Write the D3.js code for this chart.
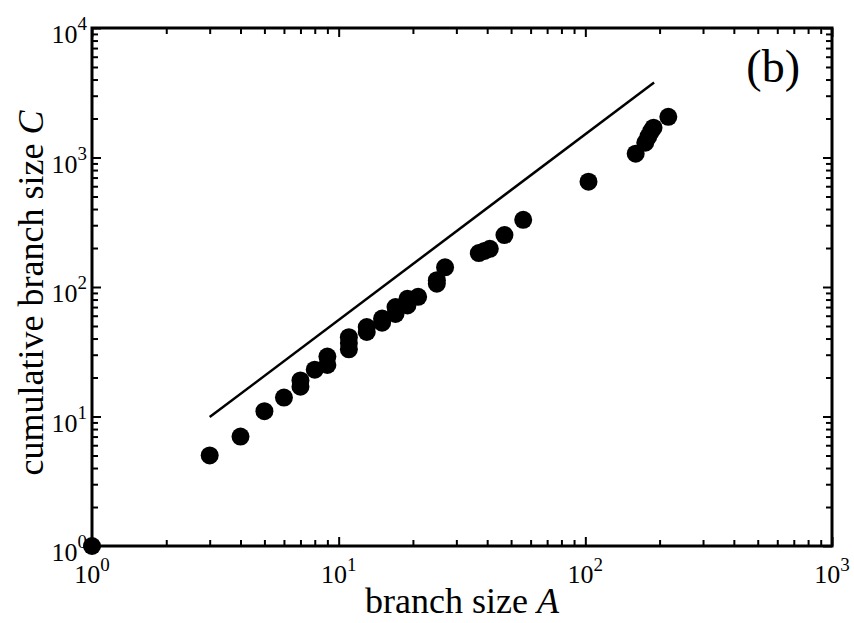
<!DOCTYPE html>
<html>
<head>
<meta charset="utf-8">
<script src="https://cdn.jsdelivr.net/npm/d3@7"></script>
<style>
  body { margin: 0; background: #fff; }
  svg text { font-family: "Liberation Serif", "Times New Roman", serif; fill: #000; }
</style>
</head>
<body>
<svg id="chart" width="854" height="623"></svg>
<script>
// branch size A and cumulative branch size C
const branchA = [1, 3, 4, 5, 6, 7, 7, 8, 9, 9, 11, 11, 11, 13, 13, 15, 15, 17, 17, 19, 19, 21,
  25, 25, 27, 37, 39, 41, 47, 56, 103, 160, 175, 180, 185, 189, 217];
const cumulC = [1, 5, 7, 11, 14, 17, 19, 23, 25, 29, 33, 37, 41, 45, 49, 53, 57, 62, 70, 72, 81, 84,
  106, 113, 142, 183, 190, 197, 252, 330, 650, 1070, 1300, 1450, 1600, 1700, 2060];

// guide line endpoints
const lineA = [3, 190];
const lineC = [9.9, 3800];

const xDecades = [0, 1, 2, 3];
const yDecades = [0, 1, 2, 3, 4];

const plotL = 92, plotR = 832, plotT = 28, plotB = 546;

const svg = d3.select("#chart");

const x = d3.scaleLog().domain([1, 1000]).range([plotL, plotR]);
const y = d3.scaleLog().domain([1, 10000]).range([plotB, plotT]);

function minors(decs) {
  let out = [];
  for (let i = 0; i < decs.length - 1; i++) {
    for (let m = 2; m <= 9; m++) out.push(m * Math.pow(10, decs[i]));
  }
  return out;
}
const xMajor = xDecades.map((d) => Math.pow(10, d));
const yMajor = yDecades.map((d) => Math.pow(10, d));

// ticks, inward on all four sides
function addTicks(axisFn, scale, vals, size, transform) {
  svg.append("g")
    .attr("transform", transform)
    .call(axisFn(scale).tickValues(vals).tickSize(size).tickFormat(""))
    .call((g) => g.select(".domain").remove())
    .call((g) => g.selectAll("line").attr("stroke", "#000").attr("stroke-width", 2));
}
addTicks(d3.axisBottom, x, xMajor, -9, `translate(0,${plotB})`);
addTicks(d3.axisBottom, x, minors(xDecades), -6, `translate(0,${plotB})`);
addTicks(d3.axisTop, x, xMajor, -9, `translate(0,${plotT})`);
addTicks(d3.axisTop, x, minors(xDecades), -6, `translate(0,${plotT})`);
addTicks(d3.axisLeft, y, yMajor, -9, `translate(${plotL},0)`);
addTicks(d3.axisLeft, y, minors(yDecades), -6, `translate(${plotL},0)`);
addTicks(d3.axisRight, y, yMajor, -9, `translate(${plotR},0)`);
addTicks(d3.axisRight, y, minors(yDecades), -6, `translate(${plotR},0)`);

// frame
svg.append("rect")
  .attr("x", plotL).attr("y", plotT)
  .attr("width", plotR - plotL).attr("height", plotB - plotT)
  .attr("fill", "none").attr("stroke", "#000").attr("stroke-width", 3);

// tick labels
const xl = svg.append("g").selectAll("text").data(xDecades).join("text")
  .attr("x", (d) => x(Math.pow(10, d)))
  .attr("y", plotB + 37)
  .attr("text-anchor", "middle")
  .style("font-size", "26px");
xl.append("tspan").text("10");
xl.append("tspan").attr("dy", -12).style("font-size", "19px").text((d) => d);

const yl = svg.append("g").selectAll("text").data(yDecades).join("text")
  .attr("x", plotL - 5)
  .attr("y", (d) => y(Math.pow(10, d)) + 15)
  .attr("text-anchor", "end")
  .style("font-size", "26px");
yl.append("tspan").text("10");
yl.append("tspan").attr("dy", -13).style("font-size", "19px").text((d) => d);

// axis titles
const xt = svg.append("text")
  .attr("x", (plotL + plotR) / 2)
  .attr("y", 613)
  .attr("text-anchor", "middle")
  .style("font-size", "36px");
xt.append("tspan").text("branch size ");
xt.append("tspan").style("font-style", "italic").text("A");

const yt = svg.append("text")
  .attr("transform", `translate(43,293) rotate(-90)`)
  .attr("text-anchor", "middle")
  .style("font-size", "36px");
yt.append("tspan").text("cumulative branch size ");
yt.append("tspan").style("font-style", "italic").text("C");

// guide line
svg.append("path")
  .datum(lineA.map((a, i) => [a, lineC[i]]))
  .attr("d", d3.line().x((d) => x(d[0])).y((d) => y(d[1])))
  .attr("stroke", "#000").attr("stroke-width", 2.5).attr("fill", "none");

// points
svg.append("g").selectAll("circle")
  .data(branchA.map((a, i) => [a, cumulC[i]]))
  .join("circle")
  .attr("cx", (d) => x(d[0]))
  .attr("cy", (d) => y(d[1]))
  .attr("r", 9)
  .attr("fill", "#000");

// panel label
svg.append("text")
  .attr("x", 800).attr("y", 82)
  .attr("text-anchor", "end")
  .style("font-size", "46px")
  .text("(b)");
</script>
</body>
</html>
